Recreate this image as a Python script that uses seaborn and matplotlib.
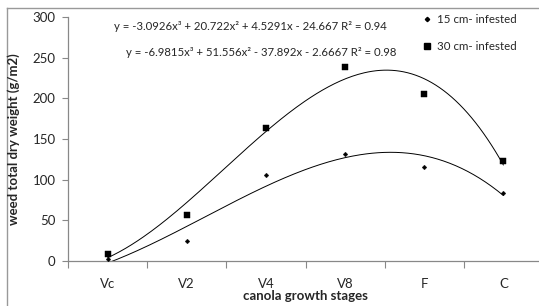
import matplotlib
matplotlib.use("Agg")
import matplotlib.pyplot as plt
from matplotlib.lines import Line2D
import numpy as np
import pandas as pd
import seaborn as sns

stages = ["Vc", "V2", "V4", "V8", "F", "C"]
infested_15 = [3, 24, 106, 131, 116, 84]
infested_30 = [8, 56, 164, 239, 205, 123]
# trendline coefficients printed on the chart (x = 1..6), highest power first
coef_15 = [-3.0926, 20.722, 4.5291, -24.667]
coef_30 = [-6.9815, 51.556, -37.892, -2.6667]
eq_15 = "y = -3.0926x³ + 20.722x² + 4.5291x - 24.667 R² = 0.94"
eq_30 = "y = -6.9815x³ + 51.556x² - 37.892x - 2.6667 R² = 0.98"
y_ticks = [0, 50, 100, 150, 200, 250, 300]

sns.set_style("white")
plt.rcParams["font.family"] = ["Lato", "DejaVu Sans"]

fig = plt.figure(figsize=(5.39, 3.06), dpi=100)
ax = fig.add_axes([68 / 539, 1 - 261 / 306, 475 / 539, 244 / 306])

pts = pd.DataFrame({
    "pos": list(range(len(stages))) * 2,
    "weight": infested_15 + infested_30,
    "series": ["15 cm- infested"] * 6 + ["30 cm- infested"] * 6,
})

xs = np.linspace(1, 6, 200)
curves = pd.DataFrame({
    "pos": np.concatenate([xs - 1, xs - 1]),
    "weight": np.concatenate([np.polyval(coef_15, xs), np.polyval(coef_30, xs)]),
    "series": ["15"] * len(xs) + ["30"] * len(xs),
})

sns.lineplot(data=curves, x="pos", y="weight", units="series", estimator=None,
             color="black", linewidth=0.7, ax=ax, legend=False)
sns.scatterplot(data=pts[pts.series == "15 cm- infested"], x="pos", y="weight",
                marker="D", s=6, color="black", edgecolor="black", ax=ax, legend=False, zorder=3)
sns.scatterplot(data=pts[pts.series == "30 cm- infested"], x="pos", y="weight",
                marker="s", s=16, color="black", edgecolor="black", ax=ax, legend=False, zorder=3)

ax.set_xlim(-0.5, 5.5)
ax.set_ylim(0, 300)
ax.set_yticks(y_ticks)
ax.set_yticklabels([str(v) for v in y_ticks], fontsize=9.5)
ax.set_xticks(np.arange(-0.5, 5.0, 1.0))
ax.set_xticklabels([])
ax.set_xticks(range(len(stages)), minor=True)
ax.set_xticklabels(stages, minor=True, fontsize=9.5)
ax.tick_params(axis="x", which="major", length=5, width=0.8, color="#888888", direction="out", bottom=True)
ax.tick_params(axis="x", which="minor", length=0, pad=12)
ax.tick_params(axis="y", length=4, width=0.8, color="#888888", direction="out", left=True, pad=5)

for side in ["top", "right"]:
    ax.spines[side].set_visible(False)
for side in ["left", "bottom"]:
    ax.spines[side].set_color("#888888")
    ax.spines[side].set_linewidth(0.9)

ax.set_xlabel("canola growth stages", fontsize=9.5, fontweight="bold", labelpad=0, va="center")
ax.xaxis.set_label_coords((305 - 68) / 475, -(296 - 261) / 244)
ax.set_ylabel("weed total dry weight (g/m2)", fontsize=9.5, fontweight="bold")
ax.yaxis.set_label_coords(-(68 - 20) / 475, 0.5)

fig.text(250 / 539, 1 - 27 / 306, eq_15, fontsize=8.2, ha="center", va="center")
fig.text(261 / 539, 1 - 52 / 306, eq_30, fontsize=8.2, ha="center", va="center")

handles = [
    Line2D([], [], linestyle="none", marker="D", markersize=2.2, color="black"),
    Line2D([], [], linestyle="none", marker="s", markersize=4.5, color="black"),
]
ax.legend(handles, ["15 cm- infested", "30 cm- infested"], loc="upper left",
          bbox_to_anchor=(422 / 539, 1 - 14 / 306), bbox_transform=fig.transFigure,
          frameon=False, fontsize=8.3, handlelength=0.8, handletextpad=0.5,
          labelspacing=1.4, borderpad=0, borderaxespad=0)

# chart-area border (only top and left edges fall inside the image)
border = fig.add_axes([6.5 / 539, -0.5, 2.0, 1.5 - 8.5 / 306], zorder=-1)
border.set_xticks([])
border.set_yticks([])
border.patch.set_alpha(0)
for side in border.spines:
    border.spines[side].set_color("#999999")
    border.spines[side].set_linewidth(1.0)

fig.savefig("out.png", dpi=100)
